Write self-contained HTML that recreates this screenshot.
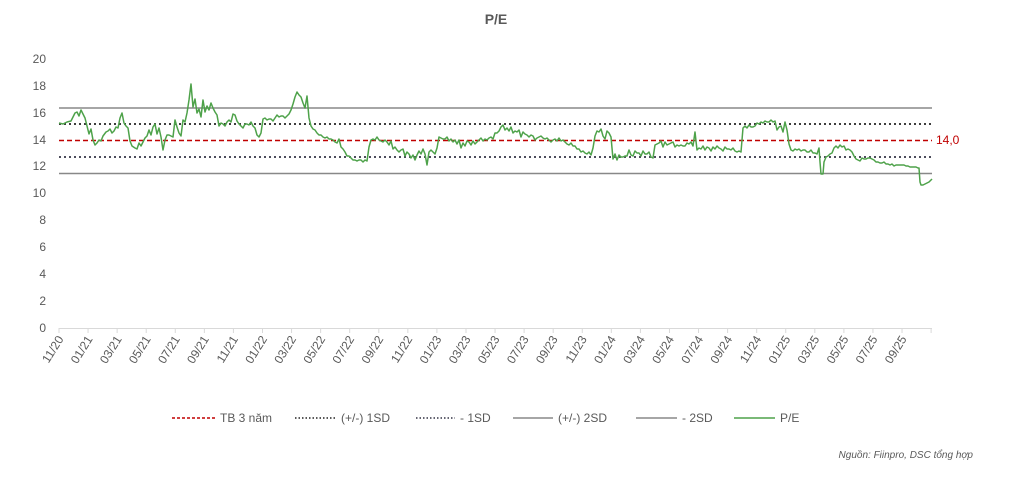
<!DOCTYPE html>
<html><head><meta charset="utf-8"><style>
body{margin:0;background:#fff;width:1015px;height:479px;overflow:hidden}
svg{display:block;font-family:"Liberation Sans",sans-serif}
</style></head><body>
<svg width="1015" height="479" viewBox="0 0 1015 479">
<text x="496" y="24" text-anchor="middle" font-size="14" font-weight="bold" fill="#595959">P/E</text>
<g font-size="12" fill="#595959" text-anchor="end">
<text x="46" y="332">0</text><text x="46" y="305">2</text><text x="46" y="278">4</text><text x="46" y="251">6</text><text x="46" y="224">8</text><text x="46" y="197">10</text><text x="46" y="170">12</text><text x="46" y="144">14</text><text x="46" y="117">16</text><text x="46" y="90">18</text><text x="46" y="63">20</text>
</g>
<line x1="59" y1="328.5" x2="932" y2="328.5" stroke="#d9d9d9" stroke-width="1"/>
<g stroke="#d9d9d9" id="ticks"></g>
<line x1="59" y1="108" x2="932" y2="108" stroke="#888" stroke-width="1.5"/>
<line x1="59" y1="173.5" x2="932" y2="173.5" stroke="#888" stroke-width="1.5"/>
<line x1="59" y1="124" x2="932" y2="124" stroke="#222" stroke-width="1.8" stroke-dasharray="2,3"/>
<line x1="59" y1="157" x2="932" y2="157" stroke="#334" stroke-width="1.8" stroke-dasharray="2,3"/>
<line x1="59" y1="140.5" x2="932" y2="140.5" stroke="#c00000" stroke-width="1.5" stroke-dasharray="5,3"/>
<text x="936" y="144" font-size="12" fill="#c00000">14,0</text>
<polyline fill="none" stroke="#4ea24a" stroke-width="1.5" stroke-linejoin="round" points="59,123 63,124 67,122 71,121 73,117 75,113 77,112 79,116 81,110 83,114 85,118 87,126 89,134 91,129 93,140 95,145 97,143 99,140 101,141 103,136 106,132 108,131 110,129 112,133 114,131 116,127 118,128 120,118 122,113 124,123 126,126 128,128 130,141 132,146 135,148 137,149 139,143 141,146 143,142 145,138 147,136 149,130 151,135 153,127 155,124 157,134 159,128 161,137 163,150 165,140 167,135 169,135 171,136 173,137 175,120 177,127 179,133 181,136 183,120 185,122 187,113 189,100 191,84 193,107 195,99 197,113 199,109 201,117 203,100 205,112 207,106 209,110 211,103 213,108 215,112 217,115 219,126 221,123 223,124 225,126 227,122 229,120 231,122 233,114 235,115 237,121 239,124 241,126 243,128 245,124 247,124 249,125 251,122 253,126 255,128 257,135 259,137 261,133 263,119 265,118 267,120 269,119 271,119 273,121 275,118 277,115 279,117 281,116 283,116 285,118 287,116 289,114 291,110 293,104 295,97 297,92 299,95 301,97 303,103 305,108 307,96 309,118 311,126 313,129 315,130 317,133 319,135 321,135 323,137 325,138 327,137 329,139 331,139 333,140 335,142 337,143 339,139 341,147 343,149 345,152 347,156 349,156 351,158 353,160 355,160 357,161 359,160 361,160 363,162 365,160 367,161 369,147 371,140 373,139 375,140 377,137 379,140 381,141 383,142 385,140 387,142 389,145 391,141 393,149 395,147 397,150 399,152 401,150 403,149 405,156 407,152 409,154 411,158 413,155 415,160 417,155 419,151 421,154 423,149 425,154 427,165 429,152 431,150 433,152 435,154 437,148 439,137 441,138 443,139 445,139 447,137 449,141 451,139 453,142 455,140 457,144 459,140 461,148 463,143 465,146 467,141 469,142 471,145 473,141 475,144 477,142 479,140 481,138 483,141 485,139 487,140 489,138 491,137 493,139 495,133 497,133 499,131 501,127 503,125 505,130 507,128 509,131 511,127 513,133 515,131 517,132 519,130 521,137 523,132 525,134 527,135 529,137 531,135 533,136 535,140 537,138 539,137 541,136 543,138 545,139 547,138 549,140 551,142 553,140 555,139 557,141 559,138 561,141 563,140 565,142 567,144 569,145 571,143 573,146 575,146 577,149 579,149 581,152 583,151 585,153 587,154 589,152 591,155 593,148 595,136 597,131 599,132 601,129 603,136 605,139 607,131 609,133 611,137 613,159 615,154 617,160 619,155 621,157 623,157 625,156 627,156 629,150 631,155 633,156 635,151 637,153 639,153 641,156 643,151 645,154 647,154 649,152 651,157 653,158 655,145 657,144 659,143 661,141 663,147 665,142 667,145 669,144 671,143 673,142 675,147 677,145 679,146 681,145 683,146 685,146 687,143 689,144 691,142 693,146 695,132 697,150 699,148 701,149 703,146 705,150 707,147 709,148 711,151 713,147 715,149 717,146 719,148 721,149 723,151 725,147 727,149 729,149 731,150 733,148 735,151 737,152 739,151 741,152 743,128 745,126 747,128 749,125 751,127 753,127 755,126 757,123 759,124 761,122 763,123 765,121 767,122 769,122 771,120 773,122 775,121 777,130 779,127 781,126 783,132 785,122 787,130 789,144 791,150 793,151 795,149 797,150 799,149 801,151 803,150 805,150 807,152 809,152 811,150 813,153 815,153 817,154 819,148 820,162 821,174 823,174 824,162 826,157 828,156 830,154 832,153 834,148 836,146 838,148 840,145 842,147 844,146 846,150 848,149 850,150 852,152 854,156 856,159 858,160 860,161 862,158 864,159 866,159 868,158 870,158 872,159 874,160 876,162 878,162 880,163 882,163 884,162 886,164 888,164 890,165 892,164 894,166 896,165 898,165 900,165 902,165 904,165 906,166 908,166 910,167 912,167 914,167 916,167 918,168 919,168 920,182 921,185 923,185 925,184 927,183 929,182 931,180 932,179"/>
<g font-size="12" fill="#595959" id="xl"></g>
<g font-size="12" fill="#595959">
<line x1="172" y1="418" x2="215" y2="418" stroke="#c00000" stroke-width="1.5" stroke-dasharray="3,2"/>
<text x="220" y="422">TB 3 năm</text>
<line x1="295" y1="418" x2="336" y2="418" stroke="#222" stroke-width="1.5" stroke-dasharray="1.5,2"/>
<text x="341" y="422">(+/-) 1SD</text>
<line x1="416" y1="418" x2="455" y2="418" stroke="#334" stroke-width="1.5" stroke-dasharray="1.5,2"/>
<text x="460" y="422">- 1SD</text>
<line x1="513" y1="418" x2="553" y2="418" stroke="#888" stroke-width="1.5"/>
<text x="558" y="422">(+/-) 2SD</text>
<line x1="636" y1="418" x2="677" y2="418" stroke="#888" stroke-width="1.5"/>
<text x="682" y="422">- 2SD</text>
<line x1="734" y1="418" x2="775" y2="418" stroke="#4ea24a" stroke-width="1.5"/>
<text x="780" y="422">P/E</text>
</g>
<text x="973" y="458" font-size="10" font-style="italic" fill="#595959" text-anchor="end">Nguồn: Fiinpro, DSC tổng hợp</text>
</svg>
<script>
var labs=["11/20","01/21","03/21","05/21","07/21","09/21","11/21","01/22","03/22","05/22","07/22","09/22","11/22","01/23","03/23","05/23","07/23","09/23","11/23","01/24","03/24","05/24","07/24","09/24","11/24","01/25","03/25","05/25","07/25","09/25"];
var t=document.getElementById('ticks'),g=document.getElementById('xl'),ns="http://www.w3.org/2000/svg";
for(var i=0;i<=30;i++){var x=59+i*29.07;var l=document.createElementNS(ns,'line');l.setAttribute('x1',x);l.setAttribute('x2',x);l.setAttribute('y1',328);l.setAttribute('y2',333);t.appendChild(l);
if(i<30){var s=document.createElementNS(ns,'text');s.setAttribute('transform','translate('+(x+5)+',339) rotate(-58)');s.setAttribute('text-anchor','end');s.textContent=labs[i];g.appendChild(s);}}
</script>
</body></html>
